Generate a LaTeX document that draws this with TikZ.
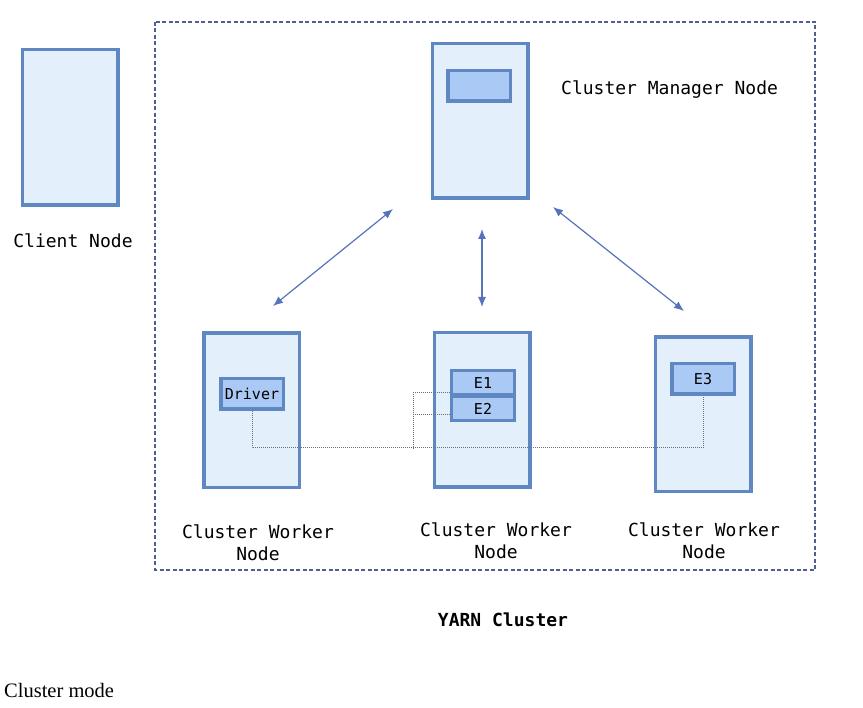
\documentclass[tikz,border=0pt]{standalone}
\usepackage{fontspec}
\setmainfont{Liberation Serif}
\setmonofont{DejaVu Sans Mono}
\usetikzlibrary{arrows.meta,calc,positioning}

\definecolor{boxfill}{HTML}{E4EFFC}
\definecolor{boxedge}{HTML}{5F87C2}
\definecolor{procfill}{HTML}{AAC9F5}
\definecolor{linkcol}{HTML}{5573B8}
\definecolor{framecol}{HTML}{4F5F8F}
\definecolor{wirecol}{HTML}{707070}

\tikzset{
  machine/.style={draw=boxedge, fill=boxfill, line width=3.5pt, inner sep=0pt,
    minimum width=95.5pt, minimum height=154.5pt},
  proc/.style={draw=boxedge, fill=procfill, line width=3.5pt, inner sep=0pt,
    minimum width=62.5pt, minimum height=30.5pt, font=\ttfamily\fontsize{15}{17}\selectfont},
  exec/.style={proc, line width=3pt, minimum height=24pt},
  lbl/.style={font=\ttfamily\fontsize{18}{22}\selectfont, align=center, inner sep=0pt},
  link/.style={draw=linkcol, line width=1.2pt, {Latex[length=10pt,width=8pt]}-{Latex[length=10pt,width=8pt]}},
  wire/.style={draw=wirecol, line width=1pt, dash pattern=on 1pt off 1pt}
}

\begin{document}
\begin{tikzpicture}[x=1pt,y=-1pt]
    \useasboundingbox (0,0) rectangle (863,708);

    % YARN frame
    \draw [framecol, line width=1.1pt, dash pattern=on 4pt off 2.5pt] (155,22) rectangle (815,570);

    % Client
    \node [machine, minimum height=155.5pt] (client) at (70,127.5) {};
    \node [lbl] (clientlbl) at (73,241) {Client Node};

    % Manager
    \node [machine] (mgr) at (480,121) {};
    \node [proc] (mgrproc) at (479,86) {};
    \node [lbl, anchor=west] (mgrlbl) at (561,90) {Cluster Manager Node};

    % Workers
    \node [machine] (wk1) at (251.5,410.5) {};
    \node [proc] (driver) at (252,394) {Driver};
    \node [lbl] (wk1lbl) at (258,543) {Cluster Worker\\Node};

    \node [machine] (wk2) at (482,410) {};
    \node [exec] (e1) at (483,383) {E1};
    \node [exec] (e2) at (483,409) {E2};
    \node [lbl] (wk2lbl) at (496,541) {Cluster Worker\\Node};

    \node [machine] (wk3) at (703,414.5) {};
    \node [proc] (e3) at (703,379) {E3};
    \node [lbl] (wk3lbl) at (704,541) {Cluster Worker\\Node};

    % Links to the manager
    \coordinate (m1) at (393,209);
    \coordinate (w1) at (273,306);
    \coordinate (m2) at (482,229);
    \coordinate (w2) at (482,307);
    \coordinate (m3) at (553,207);
    \coordinate (w3) at (684,311);
    \draw [link] (m1) -- (w1);
    \draw [link] (m2) -- (w2);
    \draw [link] (m3) -- (w3);

    % Driver to executors
    \coordinate (bus) at (0,448);
    \coordinate (tap) at (413,448);
    \draw [wire] (driver.south) -- (driver.south |- bus) -| (e3.south);
    \draw [wire] ($(e1.west)+(0,10)$) -| (tap);
    \draw [wire] ($(e2.west)+(0,6)$) -- (tap |- {$(e2.west)+(0,6)$});

    % Titles
    \node [lbl, font=\ttfamily\bfseries\fontsize{18}{22}\selectfont] (yarn) at (503,620) {YARN Cluster};
    \node [anchor=west, inner sep=0pt, font=\fontsize{20.5}{24}\selectfont] (mode) at (4,690) {Cluster mode};
\end{tikzpicture}
\end{document}
